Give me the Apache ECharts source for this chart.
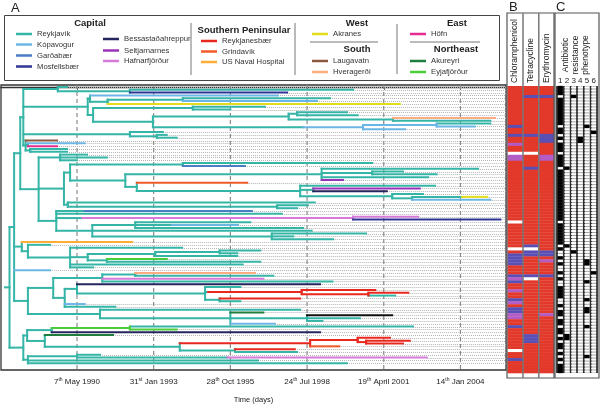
<!DOCTYPE html>
<html><head><meta charset="utf-8">
<script src="https://cdn.jsdelivr.net/npm/echarts@6/dist/echarts.min.js"></script>
<style>html,body{margin:0;padding:0;background:#fff}#c{width:600px;height:409px}</style>
</head><body><div id="c"></div>
<script>
// ---------------- DATA ----------------
const regionCodes = ['R','K','G','M','B','S','H','N','D','U','A','L','V','F','Y','E','X'];
const regionNames = ['Reykjavík','Kópavogur','Garðabær','Mosfellsbær','Bessastaðahreppur','Seltjarnarnes','Hafnarfjörður','Reykjanesbær','Grindavík','US Naval Hospital','Akranes','Laugavatn','Hveragerði','Höfn','Akureyri','Eyjafjörður','(unassigned)'];
const capitalCol1 = ['R','K','G','M'];
const capitalCol2 = ['B','S','H'];
const southernCodes = ['N','D','U'];
const westCodes = ['A'];
const southCodes = ['L','V'];
const eastCodes = ['F'];
const northeastCodes = ['Y','E'];

// time axis (days since 7 May 1990)
const tickDays = [0,1000,2000,3000,4000,5000];
const tickDayNum = ['7','31','28','24','19','14'];
const tickSuffix = ['th','st','th','th','th','th'];
const tickMonthYear = ['May 1990','Jan 1993','Oct 1995','Jul 1998','April 2001','Jan 2004'];

// tree clades: (children)CODE:nodeTime ; tip = CODE:tipTime  (times in days)
const rootStemStart = -940;
const cladeTop1 = "(R:-130,(R:3600,M:2740)R:690)R:-250";
const cladeSubA = "(K:2620,((R:3300,K:3130)R:1380,A:4210)R:400)R:170";
const cladeSubB = "((R:2450,R:2000)R:1510,(((R:3520,R:3660)R:2870,(V:5450,R:5390)R:4120)R:2760,(((R:5390,K:5190)K:4690,K:4280)K:3730)R:2950)R:990)R:210";
const cladeTop3 = "(R:1120,(R:1170,R:1300)R:1040)R:690";
const cladeEarly = "(L:-260,(K:100,F:-260)R:-640,(R:-130,R:-130)R:-610)R:-670";
const clade60 = "(R:130,R:390,R:0)R:-220";
const clade72 = "(R:3850,G:2190)R:1380";
const clade322 = "(R:5230,(R:4250,R:4690)R:3850,R:4580,S:3470)R:3190";
const clade137 = "(D:2220,(R:4670,(S:4470,B:4040)R:3080,(R:4510,((A:5350)R:5020,K:5390)R:4370)R:4110)R:2910)R:780";
const clade68 = "(R:3100,(R:3010,R:2870)R:2610)R:-120";
const clade56 = "((G:2280)R:100,R:2670,((H:4450,M:5520)H:3600)R:70,((R:2260,(K:2100)R:1240,R:2950)R:760,R:3060,(R:3770,R:2820,R:3340)R:2540)R:200)R:-270";
const clade155 = "((R:2390,R:2090)R:1860,R:2090)R:1020";
const clade107 = "(E:1170,R:2390)R:390";
const clade102 = "((V:2320,R:2560)R:760,H:2430,R:3330)R:330";
const clade65 = "((B:3170,(R:2130,((N:3890,(N:4320,R:4150)N:3800)N:2930)R:1710,(N:2910,R:2130)R:1860)R:1670)R:0,K:100,R:500)R:-160";
const clade100 = "(R:2910,(Y:2430,(X:4110,R:3690,R:3200)R:3000,K:2580)R:2000)R:300";
const cladeReds = "(((N:4080,(N:4340,N:4250)N:3770)N:3660,D:3420)N:3040,(N:2840,R:2870)R:2060)R:1340";
const cladeLast = "((R:300,(H:4560)R:1960)R:0,R:2360,R:3520)R:-640";

// resistance panel B (row indices, top = 0) : 96 rows
const heatRows = 96;
const drugNames = ['Chloramphenicol','Tetracycline','Erythromycin'];
const chlBlue = [13,16,56,57,58,59,63,65,71,74,75,80,91];
const chlPurple = [19,23,24,64,68,72,76,77];
const chlWhite = [22,45,54,88];
const tetBlue = [3,16,27,53,55,56,63,83,84,85];
const tetPurple = [];
const tetWhite = [22,54,64];
const eryBlue = [3,16,17,18,55,56,63];
const eryPurple = [23,24,58,76];
const eryWhite = [];
// phenotype panel C
const phenoHeader = ['Antibiotic','resistance','phenotype'];
const phenoLabels = ['1','2','3','4','5','6'];
const pheno1White = [3,13,16,18,22,27,45,53,55,56,58,60,61,63,65,66,71,72,74,77,80,83,85,88,90,92];
const pheno2Black = [27,53,83,84];
const pheno3Black = [3,55];
const pheno4Black = [17,18];
const pheno5Black = [13,58,59,65,71,74,75,80,90];
const pheno6Black = [15,62];

// ---------------- STYLE ----------------
const FONT = 'Liberation Sans, Arial, Helvetica, sans-serif';
const colorOf = {R:'#35b5a6',K:'#6cb6e6',G:'#4a7dc4',M:'#2f3594',B:'#25255e',S:'#9b33b8',H:'#d57ad9',N:'#e8281e',D:'#f05a28',U:'#ffad35',A:'#e3dc1d',L:'#8b5a3c',V:'#ffab82',F:'#e52b91',Y:'#1f7d3d',E:'#4bcc38',X:'#111111'};
const X_MIN = -991, X_MAX = 5594;

// ---------------- TREE BUILD ----------------
const cladeTop2 = `(${cladeSubA},${cladeSubB})R:140`;
const cladeT1 = `(${cladeTop1},${cladeTop2},${cladeTop3},${cladeEarly})R:-700`;
const clade125 = `(${clade322},${clade137})R:630`;
const clade70 = `(${clade72},${clade125})R:-90`;
const clade64 = `(${clade70},${clade68})R:-170`;
const clade39 = `(${clade60},${clade64},${clade56})R:-500`;
const cladeTop = `(${cladeT1},${clade39})R:-740`;
const clade28 = `(R:-350,(R:1370,(${clade155},${clade107})R:140,R:2160,R:210)R:-90)R:-640`;
const clade22 = `(U:720,${clade28})R:-720`;
const clade53 = `(${clade102},${clade65})R:-310`;
const cladeMid = `(${clade53},${clade100})R:-640`;
const cladeUpper = `(${cladeTop},${clade22},K:-350,${cladeMid})R:-820`;
const cladeLow = `(((R:4380,E:1300)E:690,B:3170)R:-330,(Y:470,${cladeReds})R:-420)R:-650`;
const cladeBottom = `(${cladeLow},${cladeLast})R:-700`;
const treeString = `(${cladeUpper},${cladeBottom})R:-880`;

function parseTree(s){
  let i=0;
  function node(){
    const n={children:[]};
    if(s[i]==='('){
      i++; n.children.push(node());
      while(s[i]===','){i++; n.children.push(node());}
      i++;
    }
    n.code=s[i]; i+=2;
    const j=i; while(i<s.length && /[-0-9.]/.test(s[i])) i++;
    n.t=parseFloat(s.slice(j,i));
    return n;
  }
  return node();
}
const root = parseTree(treeString);
const leaves=[];
(function layout(n){
  if(!n.children.length){n.y=leaves.length; leaves.push(n); return;}
  n.children.forEach(layout);
  n.y=(n.children[0].y+n.children[n.children.length-1].y)/2;
})(root);
const nLeaves = leaves.length;
const branchData=[];
(function collect(n,pt){
  branchData.push([pt,n.y,n.t,n.y,regionCodes.indexOf(n.code)]);
  if(n.children.length>1) branchData.push([n.t,n.children[0].y,n.t,n.children[n.children.length-1].y,regionCodes.indexOf(n.code)]);
  n.children.forEach(c=>collect(c,n.t));
})(root, rootStemStart);
branchData.sort((a,b)=>(a[4]===0?0:1)-(b[4]===0?0:1));
const dottedData = leaves.map(l=>[l.t,l.y]);
const yMinT=-0.7, yMaxT=nLeaves-1+2.4;

// heat data
const rowIds = Array.from({length:heatRows},(_,i)=>i);
const heatB=[];
[[chlBlue,chlPurple,chlWhite],[tetBlue,tetPurple,tetWhite],[eryBlue,eryPurple,eryWhite]].forEach((g,c)=>{
  rowIds.forEach(r=>{
    let v=0; if(g[0].includes(r)) v=1; if(g[1].includes(r)) v=2; if(g[2].includes(r)) v=3;
    heatB.push([c,r,v]);
  });
});
const heatBColors=['#e2392b','#5a4fb5','#b45cc6','#ffffff'];
const heatC=[];
rowIds.forEach(r=>heatC.push([0,r,pheno1White.includes(r)?0:1]));
[pheno2Black,pheno3Black,pheno4Black,pheno5Black,pheno6Black].forEach((b,k)=>{
  rowIds.forEach(r=>heatC.push([k+1,r,b.includes(r)?1:0]));
});

// ---------------- GRAPHICS (frames, legend, headers) ----------------
const G=[];
const Z=100;
function txt(x,y,text,opt){G.push(Object.assign({type:'text',x,y,z:Z,style:Object.assign({text,fill:'#222',font:'7.7px '+FONT,align:'left',verticalAlign:'middle'},opt&&opt.style||{})},opt&&opt.el||{}));}
function ln(x1,y1,x2,y2,stroke,w){G.push({type:'line',z:Z,shape:{x1,y1,x2,y2},style:{stroke,lineWidth:w||1}});}
function legendItems(codes,x,ys){codes.forEach((c,i)=>{ln(x,ys[i],x+16,ys[i],colorOf[c],2.5);txt(x+21,ys[i],regionNames[regionCodes.indexOf(c)],{style:{fill:'#333'}});});}
txt(11,8,'A',{style:{font:'13px '+FONT}});
txt(509,7,'B',{style:{font:'13px '+FONT}});
txt(556,7,'C',{style:{font:'13px '+FONT}});
G.push({type:'rect',z:Z,shape:{x:4.5,y:15.5,width:495,height:65},style:{fill:'none',stroke:'#444',lineWidth:1}});
const B9='bold 9.5px '+FONT;
txt(90,23,'Capital',{style:{font:B9,align:'center'}});
legendItems(capitalCol1,16,[34,44.5,55.5,66.5]);
legendItems(capitalCol2,103,[39,50.5,61]);
ln(191,23,191,75,'#777',1);
txt(244,30,'Southern Peninsular',{style:{font:B9,align:'center'}});
legendItems(southernCodes,201,[41,51.5,62]);
ln(295,23,295,75,'#777',1);
txt(357,23,'West',{style:{font:B9,align:'center'}});
legendItems(westCodes,312,[34]);
ln(310,42,378,42,'#777',1);
txt(357,49,'South',{style:{font:B9,align:'center'}});
legendItems(southCodes,312,[61,72]);
ln(397,24,397,74,'#777',1);
txt(457,23,'East',{style:{font:B9,align:'center'}});
legendItems(eastCodes,410,[34]);
ln(410,42,480,42,'#777',1);
txt(456,49,'Northeast',{style:{font:B9,align:'center'}});
legendItems(northeastCodes,410,[61,72]);
// panel B frame and header
G.push({type:'rect',z:Z,shape:{x:507,y:13,width:47,height:365},style:{fill:'none',stroke:'#555',lineWidth:1.2}});
ln(523,13,523,378,'#777',1.5);
ln(538.8,13,538.8,378,'#777',1.5);
[515,531,546.5].forEach((x,i)=>txt(x,83,drugNames[i],{el:{rotation:Math.PI/2},style:{font:'8.5px '+FONT}}));
// panel C frame and header
G.push({type:'rect',z:Z,shape:{x:555,y:13,width:44,height:365},style:{fill:'none',stroke:'#555',lineWidth:1.2}});
[566,576,586].forEach((x,i)=>txt(x,55,phenoHeader[i],{el:{rotation:Math.PI/2},style:{font:'8.5px '+FONT,align:'center'}}));
phenoLabels.forEach((t,i)=>txt(560.3+i*6.67,81,t,{style:{font:'8px '+FONT,align:'center'}}));

// ---------------- CHART ----------------
const chart = echarts.init(document.getElementById('c'),null,{renderer:'canvas'});
const line=(x1,y1,x2,y2,style)=>({type:'line',shape:{x1,y1,x2,y2},style});
chart.setOption({
  animation:false,
  textStyle:{fontFamily:FONT},
  grid:[
    {left:1,top:85,width:505,height:293,show:true,borderColor:'#333',borderWidth:1.3,backgroundColor:'#fff'},
    {left:507.5,top:86,width:46.5,height:287},
    {left:557,top:86,width:40,height:287,show:true,backgroundColor:'#9c9c9c',borderWidth:0}
  ],
  xAxis:[
    {gridIndex:0,type:'value',min:X_MIN,max:X_MAX,
     axisLine:{show:true,lineStyle:{color:'#333',width:1.3}},
     axisTick:{show:true,customValues:tickDays,length:3,lineStyle:{color:'#666'}},
     axisLabel:{customValues:tickDays,margin:7,color:'#222',
       formatter:v=>{const i=tickDays.indexOf(v);if(i<0)return '';return `{n|${tickDayNum[i]}}{s|${tickSuffix[i]}}{n| ${tickMonthYear[i]}}`;},
       rich:{n:{fontSize:8,color:'#222',fontFamily:FONT},s:{fontSize:5,color:'#222',fontFamily:FONT,padding:[0,0,5,0]}}},
     splitLine:{show:false},
     name:'Time (days)',nameLocation:'middle',nameGap:26,nameTextStyle:{fontSize:7.5,color:'#222',fontFamily:FONT}},
    {gridIndex:1,type:'category',data:drugNames,show:false},
    {gridIndex:2,type:'category',data:phenoLabels,axisLine:{show:false},axisTick:{show:false},axisLabel:{show:false},
     splitLine:{show:true,interval:0,lineStyle:{color:'#111',width:1.6}}}
  ],
  yAxis:[
    {gridIndex:0,type:'value',inverse:true,min:yMinT,max:yMaxT,show:false,splitLine:{show:false}},
    {gridIndex:1,type:'category',data:rowIds,inverse:true,show:false},
    {gridIndex:2,type:'category',data:rowIds,inverse:true,show:false}
  ],
  series:[
    {type:'custom',name:'tip-dots',xAxisIndex:0,yAxisIndex:0,data:dottedData,z:1,silent:true,
     renderItem:(p,api)=>{const a=api.coord([api.value(0),api.value(1)]),b=api.coord([X_MAX,api.value(1)]);
       return line(a[0],Math.round(a[1])+0.5,b[0],Math.round(a[1])+0.5,{stroke:'#b4b4b4',lineWidth:1,lineDash:[1,1]});}},
    {type:'custom',name:'time-grid',xAxisIndex:0,yAxisIndex:0,data:tickDays.map(d=>[d]),z:2,silent:true,
     renderItem:(p,api)=>{const a=api.coord([api.value(0),yMinT]),b=api.coord([api.value(0),yMaxT]);
       return line(a[0],a[1],b[0],b[1],{stroke:'#8a8a8a',lineWidth:1.2,lineDash:[4,3]});}},
    {type:'custom',name:'tree',xAxisIndex:0,yAxisIndex:0,data:branchData,z:3,silent:true,
     renderItem:(p,api)=>{const a=api.coord([api.value(0),api.value(1)]),b=api.coord([api.value(2),api.value(3)]);
       return line(a[0],a[1],b[0],b[1],{stroke:colorOf[regionCodes[api.value(4)]],lineWidth:2,lineCap:'square'});}},
    {type:'custom',name:'resistance',xAxisIndex:1,yAxisIndex:1,data:heatB,silent:true,
     renderItem:(p,api)=>{const c=api.coord([api.value(0),api.value(1)]),s=api.size([1,1]);
       return {type:'rect',shape:{x:c[0]-s[0]/2,y:c[1]-s[1]/2,width:s[0],height:s[1]+0.3},style:{fill:heatBColors[api.value(2)]}};}},
    {type:'custom',name:'phenotype',xAxisIndex:2,yAxisIndex:2,data:heatC,silent:true,
     renderItem:(p,api)=>{const c=api.coord([api.value(0),api.value(1)]),s=api.size([1,1]);const blk=api.value(2)===1;
       const w=s[0]-1.6,h=blk?s[1]+0.3:s[1]-0.9;
       return {type:'rect',shape:{x:c[0]-w/2,y:c[1]-h/2,width:w,height:h},style:{fill:blk?'#000':'#fff'}};}}
  ],
  graphic:G
});
</script></body></html>
